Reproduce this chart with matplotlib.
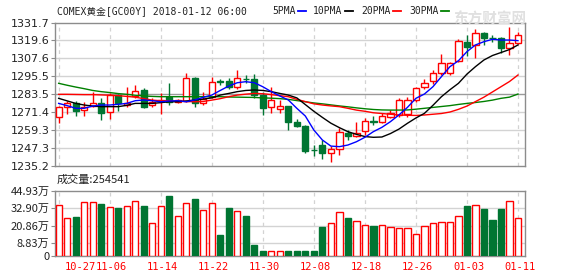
import numpy as np
import matplotlib
matplotlib.use("Agg")
from matplotlib import pyplot as plt
from matplotlib.transforms import blended_transform_factory

# daily candles, oldest first
opens = [1268.4, 1275.1, 1277.8, 1272.8, 1275.8, 1277.8, 1271.3, 1282.9, 1276.2, 1282.5,
         1286.3, 1276.2, 1278.6, 1281.4, 1278.4, 1279.1, 1294.1, 1277.3, 1281.8, 1292.6,
         1292.6, 1288.5, 1293.9, 1293.5, 1282.9, 1274.6, 1273.3, 1275.5, 1265.0, 1262.1,
         1246.2, 1249.3, 1244.1, 1246.4, 1257.6, 1255.4, 1258.9, 1265.3, 1265.0, 1267.9,
         1269.5, 1270.5, 1279.6, 1288.5, 1292.6, 1297.9, 1297.9, 1306.0, 1318.8, 1316.6,
         1324.4, 1321.6, 1321.0, 1314.3, 1318.1]
highs = [1275.5, 1279.0, 1279.1, 1278.4, 1285.2, 1280.7, 1284.0, 1283.6, 1288.1, 1289.7,
         1287.4, 1280.7, 1284.0, 1290.8, 1280.0, 1297.5, 1295.3, 1285.2, 1295.3, 1293.7,
         1294.1, 1299.7, 1296.4, 1297.1, 1285.2, 1288.5, 1279.6, 1275.5, 1266.6, 1262.8,
         1249.3, 1252.7, 1248.6, 1260.5, 1259.4, 1265.0, 1267.2, 1268.8, 1271.0, 1272.8,
         1280.7, 1281.5, 1288.5, 1293.5, 1299.8, 1310.5, 1305.0, 1320.4, 1323.3, 1327.1,
         1325.5, 1323.3, 1322.2, 1328.9, 1325.5]
lows = [1263.9, 1270.2, 1268.8, 1268.8, 1275.1, 1266.1, 1266.6, 1272.4, 1275.1, 1280.7,
        1274.0, 1274.6, 1270.2, 1276.2, 1277.3, 1278.4, 1274.6, 1276.2, 1280.7, 1289.7,
        1286.8, 1286.8, 1290.8, 1280.7, 1269.5, 1271.0, 1270.6, 1259.4, 1261.2, 1243.7,
        1241.9, 1239.7, 1238.1, 1242.6, 1252.7, 1254.5, 1256.0, 1262.8, 1263.9, 1267.2,
        1268.4, 1268.4, 1278.4, 1286.7, 1290.3, 1296.4, 1296.5, 1305.4, 1309.2, 1307.6,
        1316.6, 1318.8, 1311.0, 1309.8, 1317.2]
closes = [1274.6, 1277.3, 1272.4, 1275.1, 1277.3, 1270.6, 1282.9, 1277.3, 1277.3, 1285.6,
          1275.1, 1278.4, 1279.6, 1278.4, 1279.6, 1294.1, 1277.3, 1280.0, 1291.9, 1292.0,
          1288.5, 1294.1, 1293.4, 1282.9, 1274.0, 1279.6, 1275.5, 1265.0, 1262.1, 1245.3,
          1245.7, 1243.7, 1246.4, 1258.3, 1255.4, 1257.6, 1265.7, 1264.8, 1268.8, 1270.6,
          1279.6, 1279.5, 1287.4, 1291.2, 1297.5, 1304.7, 1304.7, 1319.5, 1315.0, 1324.4,
          1321.0, 1321.0, 1314.3, 1317.7, 1323.3]
# volume in 万 (10k lots); red = up day
volumes = [35.2, 25.9, 26.9, 37.0, 37.0, 35.9, 33.8, 33.1, 34.5, 38.0,
           34.7, 22.5, 34.5, 41.4, 27.5, 36.6, 39.4, 31.7, 36.3, 14.4,
           33.3, 31.0, 27.5, 7.4, 3.2, 3.0, 3.0, 3.2, 3.2, 3.2,
           3.2, 19.9, 22.5, 30.1, 26.2, 24.1, 21.3, 20.6, 21.3, 19.7,
           19.2, 19.2, 15.0, 20.6, 22.5, 23.4, 23.4, 27.5, 34.7, 35.2,
           32.6, 25.0, 32.6, 38.0, 26.2]
vol_up = [1, 1, 0, 1, 1, 0, 1, 0, 1, 1, 0, 1, 1, 0, 1, 1, 0, 1, 1, 0,
          0, 1, 0, 0, 0, 1, 1, 0, 0, 0, 0, 0, 1, 1, 0, 1, 1, 0, 1, 1,
          1, 1, 1, 1, 1, 1, 1, 1, 0, 1, 0, 0, 0, 1, 1]

ma5 = [1277.3, 1275.8, 1274.0, 1274.0, 1275.5, 1276.2, 1276.2, 1276.7, 1277.3, 1279.1,
       1279.6, 1279.1, 1278.4, 1278.9, 1279.1, 1278.4, 1279.6, 1281.4, 1282.9, 1286.0,
       1289.0, 1291.2, 1291.9, 1291.2, 1288.5, 1285.2, 1282.3, 1279.6, 1274.0, 1268.8,
       1259.4, 1252.7, 1248.6, 1248.2, 1249.3, 1251.5, 1254.5, 1258.3, 1261.2, 1265.0,
       1269.5, 1274.6, 1280.7, 1283.6, 1288.5, 1295.3, 1302.0, 1306.0, 1312.1, 1316.6,
       1318.8, 1320.4, 1319.9, 1319.9, 1319.5]
ma10 = [1280.7, 1279.0, 1277.3, 1276.2, 1275.5, 1275.1, 1275.1, 1275.1, 1276.0, 1277.3,
        1277.3, 1277.3, 1277.8, 1278.4, 1278.4, 1278.9, 1279.6, 1280.2, 1281.0, 1282.9,
        1284.0, 1285.2, 1286.0, 1286.3, 1286.0, 1285.2, 1284.0, 1282.9, 1281.0, 1276.5,
        1272.0, 1267.9, 1264.0, 1261.0, 1258.3, 1256.5, 1255.0, 1254.5, 1254.7, 1257.0,
        1260.0, 1263.9, 1267.5, 1270.6, 1276.0, 1281.8, 1286.5, 1290.8, 1297.0, 1302.0,
        1306.5, 1309.5, 1311.5, 1313.5, 1316.6]
ma20 = [1283.4, 1283.4, 1283.3, 1283.2, 1283.2, 1283.0, 1282.8, 1282.5, 1282.0, 1281.5,
        1280.5, 1279.5, 1279.1, 1279.0, 1278.8, 1278.6, 1278.4, 1278.6, 1279.5, 1280.5,
        1281.8, 1282.9, 1283.5, 1284.0, 1283.8, 1283.2, 1282.5, 1281.8, 1280.0, 1278.5,
        1277.0, 1276.2, 1275.6, 1275.1, 1274.0, 1272.8, 1272.0, 1271.0, 1270.5, 1270.0,
        1269.5, 1269.3, 1269.2, 1269.5, 1270.0, 1270.5, 1271.5, 1273.3, 1275.5, 1278.5,
        1281.5, 1285.0, 1288.5, 1292.0, 1296.4]
ma30 = [1290.8, 1289.5, 1288.3, 1287.2, 1286.0, 1285.2, 1284.6, 1283.9, 1283.4, 1282.8,
        1282.3, 1282.0, 1281.8, 1281.8, 1281.8, 1281.8, 1281.8, 1281.8, 1281.8, 1281.8,
        1281.6, 1281.5, 1281.4, 1281.3, 1281.0, 1280.8, 1280.5, 1280.0, 1279.2, 1278.4,
        1277.6, 1277.0, 1276.3, 1275.6, 1275.0, 1274.3, 1273.7, 1273.2, 1272.9, 1272.8,
        1272.8, 1272.9, 1273.4, 1274.0, 1274.6, 1275.2, 1275.8, 1276.6, 1277.3, 1277.9,
        1278.6, 1279.5, 1280.7, 1281.5, 1283.6]

date_labels = ["10-27", "11-06", "11-14", "11-22", "11-30", "12-08", "12-18", "12-26", "01-03", "01-11"]
price_ticks = [1235.2, 1247.3, 1259.3, 1271.4, 1283.5, 1295.5, 1307.6, 1319.6, 1331.7]
vol_ticks = [0, 8.83, 20.86, 32.90, 44.93]
vol_tick_labels = ["0", "8.83万", "20.86万", "32.90万", "44.93万"]

RED = "#ff0000"
GREEN = "#007532"
GRID = "#d3d3d3"
SPINE = "#8c8c8c"
MONO = ["DejaVu Sans Mono", "Noto Sans CJK SC"]
SANS = ["Noto Sans CJK SC", "DejaVu Sans"]

W, H = 578, 276
fig = plt.figure(figsize=(W / 100, H / 100), dpi=100)


def px_axes(left, top, right, bottom):
    return fig.add_axes([left / W, 1 - bottom / H, (right - left) / W, (bottom - top) / H])


ax = px_axes(55, 22.5, 525.3, 166)
axv = px_axes(55, 191, 525.3, 255.7)

n = len(closes)
x = np.arange(n)
tick_pos = np.arange(0, n, 6)

for a in (ax, axv):
    a.set_xlim(-0.43, n - 1 + 0.86)
    for s in a.spines.values():
        s.set_color(SPINE)
        s.set_linewidth(1.0)
    a.set_xticks(tick_pos)
    a.set_xticklabels([])
    a.tick_params(axis="x", length=0)
    a.tick_params(axis="y", length=3, color=SPINE, labelsize=8, labelcolor="#222222", pad=1)
    for t in tick_pos:
        a.axvline(t, color=GRID, lw=0.9, ls=(0, (3, 3)), zorder=0)

# price panel
ax.set_ylim(price_ticks[0], price_ticks[-1])
ax.set_yticks(price_ticks)
ax.set_yticklabels([f"{v:.1f}" for v in price_ticks])
for v in price_ticks[1:-1]:
    ax.axhline(v, color="#9a9a9a" if v == 1283.5 else GRID, lw=1.0, zorder=0)

w = 0.74
for i in range(n):
    o, h, l, c = opens[i], highs[i], lows[i], closes[i]
    up = c >= o
    col = RED if up else GREEN
    ax.vlines(i, l, h, color=col, lw=1.0, zorder=2)
    body = max(abs(c - o), 0.25)
    ax.bar(i, body, w, bottom=min(o, c), color="white" if up else GREEN,
           edgecolor=col, linewidth=1.0, zorder=3)

ax.plot(x, ma30, color="#008000", lw=1.0, zorder=4)
ax.plot(x, ma20, color=RED, lw=1.0, zorder=4)
ax.plot(x, ma10, color="black", lw=1.0, zorder=4)
ax.plot(x, ma5, color="#0000ff", lw=1.0, zorder=4)

# header
fig.text(57 / W, 1 - 11 / H, "COMEX黄金[GC00Y] 2018-01-12 06:00", family=MONO, fontsize=7,
         color="#222222", va="center")
legend_items = [("5PMA", "#0000ff", 272), ("10PMA", "black", 313), ("20PMA", RED, 361), ("30PMA", "#008000", 409)]
for name, col, px in legend_items:
    fig.text(px / W, 1 - 11 / H, name, family=MONO, fontsize=7, color="#222222", va="center")
    lx = px + len(name) * 5.9 + 2
    fig.add_artist(plt.Line2D([lx / W, (lx + 8) / W], [1 - 11 / H, 1 - 11 / H], color=col, lw=1.3))

# faint site watermark, top right
fig.text(490 / W, 1 - 19 / H, "东方财富网", family=SANS, fontsize=10.5, fontweight="bold",
         color="#e0e0e0", ha="center", va="center", zorder=0)

# volume panel
axv.set_ylim(0, vol_ticks[-1])
axv.set_yticks(vol_ticks)
axv.set_yticklabels(vol_tick_labels, family=SANS)
for v in vol_ticks[1:-1]:
    axv.axhline(v, color=GRID, lw=1.0, zorder=0)
for i in range(n):
    if vol_up[i]:
        axv.bar(i, volumes[i], w, color="white", edgecolor=RED, linewidth=1.0, zorder=3)
    else:
        axv.bar(i, volumes[i], w, color=GREEN, edgecolor=GREEN, linewidth=1.0, zorder=3)

# date labels under the volume panel; the first is pushed right to stay inside
trans = blended_transform_factory(axv.transData, axv.transAxes)
for k, (t, lab) in enumerate(zip(tick_pos, date_labels)):
    if k == 0:
        axv.text(t + 0.75, -0.1, lab, transform=trans, family=MONO, fontsize=7.5, color=RED,
                 ha="left", va="top")
    else:
        axv.text(t + 0.2, -0.1, lab, transform=trans, family=MONO, fontsize=7.5, color=RED,
                 ha="center", va="top")
fig.text(57 / W, 1 - 180 / H, "成交量:254541", family=SANS, fontsize=8, color="#222222", va="center")

fig.savefig("out.png", dpi=100)
